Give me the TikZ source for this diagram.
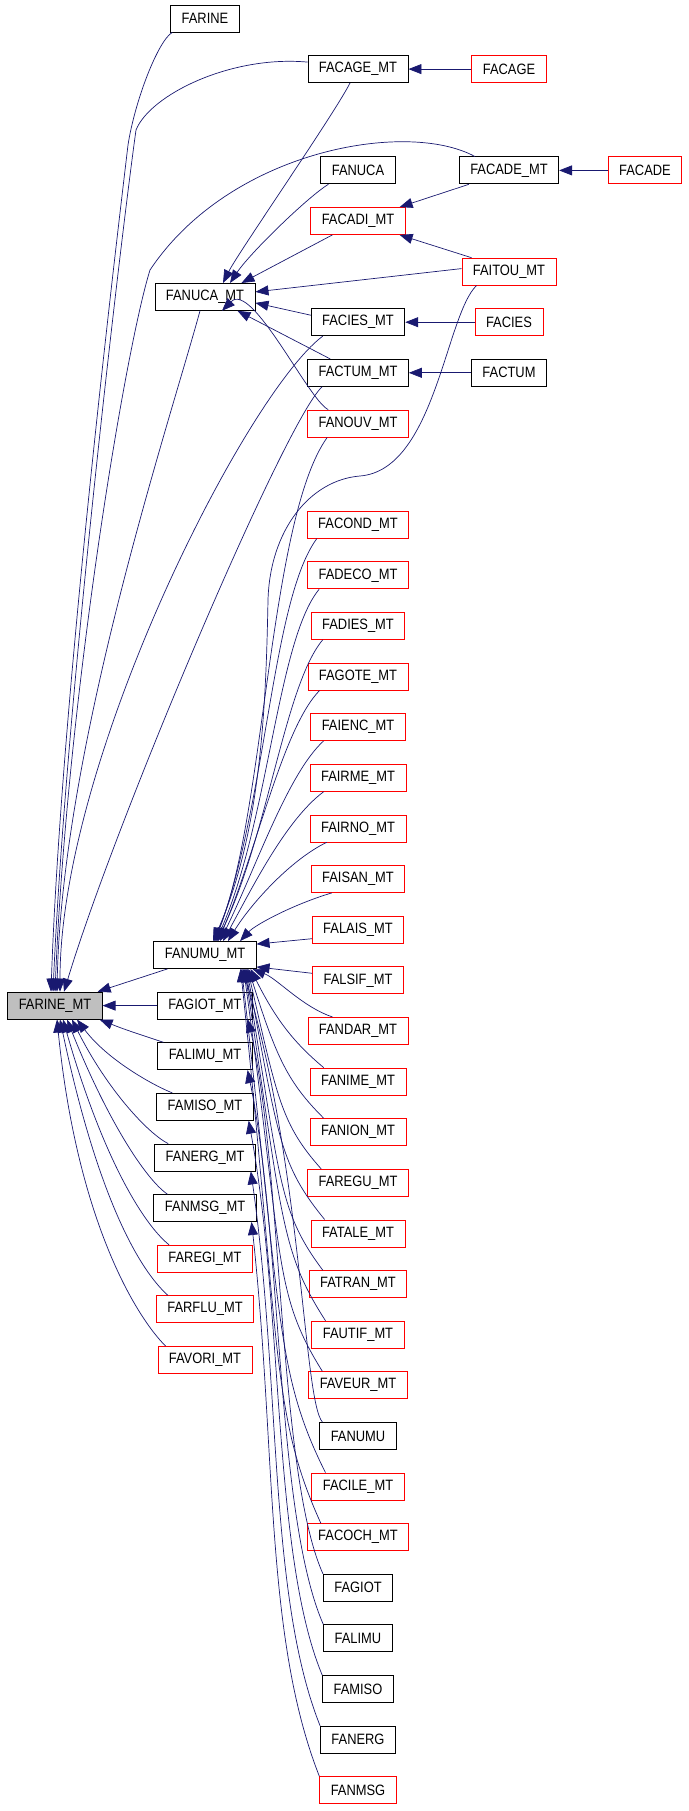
\documentclass[tikz,border=0pt]{standalone}
\usepackage{fontspec}
\usepackage{tikz}
\usetikzlibrary{arrows.meta}
\newfontfamily\doxfont[FakeStretch=0.86]{Liberation Sans}
\definecolor{edgeblue}{HTML}{191970}
\definecolor{curgray}{HTML}{BFBFBF}
\begin{document}
\begin{tikzpicture}[x=1pt,y=1pt]
\tikzstyle{fn}=[draw=black, line width=0.8pt, minimum height=27pt, inner xsep=11pt, inner ysep=0pt, font=\doxfont\fontsize{15}{17}\selectfont]
\tikzstyle{ext}=[fn, draw=red]
\tikzstyle{cur}=[fn, fill=curgray]
\tikzstyle{call}=[draw=edgeblue, line width=0.7pt, -{Triangle[length=13pt,width=10pt]}]
\useasboundingbox (0,0) rectangle (688,-1811);
\node[fn] (farine) at (205,-18.5) {FARINE};
\node[fn] (facagemt) at (358,-69.1) {FACAGE\_MT};
\node[ext] (facage) at (509,-69.1) {FACAGE};
\node[fn] (fanuca) at (358,-170.4) {FANUCA};
\node[fn] (facademt) at (509,-170.4) {FACADE\_MT};
\node[ext] (facade) at (645,-170.4) {FACADE};
\node[ext] (facadimt) at (358,-221) {FACADI\_MT};
\node[ext] (faitoumt) at (509,-271.6) {FAITOU\_MT};
\node[fn] (fanucamt) at (205,-296.9) {FANUCA\_MT};
\node[fn] (faciesmt) at (358,-322.2) {FACIES\_MT};
\node[ext] (facies) at (509,-322.2) {FACIES};
\node[fn] (factummt) at (358,-372.8) {FACTUM\_MT};
\node[fn] (factum) at (509,-372.8) {FACTUM};
\node[ext] (fanouvmt) at (358,-423.5) {FANOUV\_MT};
\node[ext] (facondmt) at (358,-524.7) {FACOND\_MT};
\node[ext] (fadecomt) at (358,-575.3) {FADECO\_MT};
\node[ext] (fadiesmt) at (358,-625.9) {FADIES\_MT};
\node[ext] (fagotemt) at (358,-676.6) {FAGOTE\_MT};
\node[ext] (faiencmt) at (358,-727.2) {FAIENC\_MT};
\node[ext] (fairmemt) at (358,-777.8) {FAIRME\_MT};
\node[ext] (fairnomt) at (358,-828.4) {FAIRNO\_MT};
\node[ext] (faisanmt) at (358,-879) {FAISAN\_MT};
\node[ext] (falaismt) at (358,-929.7) {FALAIS\_MT};
\node[ext] (falsifmt) at (358,-980.3) {FALSIF\_MT};
\node[ext] (fandarmt) at (358,-1030.9) {FANDAR\_MT};
\node[ext] (fanimemt) at (358,-1081.5) {FANIME\_MT};
\node[ext] (fanionmt) at (358,-1132.1) {FANION\_MT};
\node[ext] (faregumt) at (358,-1182.8) {FAREGU\_MT};
\node[ext] (fatalemt) at (358,-1233.4) {FATALE\_MT};
\node[ext] (fatranmt) at (358,-1284) {FATRAN\_MT};
\node[ext] (fautifmt) at (358,-1334.6) {FAUTIF\_MT};
\node[ext] (faveurmt) at (358,-1385.2) {FAVEUR\_MT};
\node[fn] (fanumu) at (358,-1435.9) {FANUMU};
\node[ext] (facilemt) at (358,-1486.5) {FACILE\_MT};
\node[ext] (facochmt) at (358,-1537.1) {FACOCH\_MT};
\node[fn] (fagiot) at (358,-1587.7) {FAGIOT};
\node[fn] (falimu) at (358,-1638.3) {FALIMU};
\node[fn] (famiso) at (358,-1689) {FAMISO};
\node[fn] (fanerg) at (358,-1739.6) {FANERG};
\node[ext] (fanmsg) at (358,-1790.2) {FANMSG};
\node[fn] (fanumumt) at (205,-955) {FANUMU\_MT};
\node[cur] (farinemt) at (55,-1005.6) {FARINE\_MT};
\node[fn] (fagiotmt) at (205,-1005.6) {FAGIOT\_MT};
\node[fn] (falimumt) at (205,-1056.2) {FALIMU\_MT};
\node[fn] (famisomt) at (205,-1106.8) {FAMISO\_MT};
\node[fn] (fanergmt) at (205,-1157.5) {FANERG\_MT};
\node[fn] (fanmsgmt) at (205,-1208.1) {FANMSG\_MT};
\node[ext] (faregimt) at (205,-1258.7) {FAREGI\_MT};
\node[ext] (farflumt) at (205,-1309.3) {FARFLU\_MT};
\node[ext] (favorimt) at (205,-1359.9) {FAVORI\_MT};
\draw[call] (facage.west) -- (facagemt.east);
\draw[call] (facade.west) -- (facademt.east);
\draw[call] (facies.west) -- (faciesmt.east);
\draw[call] (factum.west) -- (factummt.east);
\draw[call] ([xshift=2pt]farine.south west) .. controls +(-14,-8) and +(7,45) .. (128,-145) .. controls +(-10,-85) and +(10,292) .. ([xshift=-4pt]farinemt.north);
\draw[call] ([yshift=7pt]facagemt.west) .. controls +(-77,7) and +(14,35) .. (136,-130) .. controls +(-14,-100) and +(13,292) .. ([xshift=-2pt]farinemt.north);
\draw[call] ([xshift=16pt]facademt.north west) .. controls +(-68,37) and +(80,120) .. (150,-270) .. controls +(-25,-80) and +(12,292) .. (farinemt.north);
\draw[call] ([xshift=-5pt]fanucamt.south) .. controls +(-30,-110) and +(5,246) .. ([xshift=2pt]farinemt.north);
\draw[call] ([xshift=12pt]faciesmt.south west) .. controls +(-77,-58) and +(0,232) .. ([xshift=5pt]farinemt.north);
\draw[call] ([xshift=15pt]factummt.south west) .. controls +(-37,-34) and +(52,172) .. ([xshift=9pt]farinemt.north);
\draw[call] ([xshift=14pt]fanumumt.south west) -- ([xshift=-5pt]farinemt.north east);
\draw[call] (fagiotmt.west) -- (farinemt.east);
\draw[call] ([xshift=6pt]falimumt.north west) .. controls +(-30,10) and +(25,-10) .. ([xshift=-3pt]farinemt.south east);
\draw[call] ([xshift=16pt]famisomt.north west) .. controls +(-20,8) and +(30,-40) .. ([xshift=22pt]farinemt.south);
\draw[call] ([xshift=14pt]fanergmt.north west) .. controls +(-20,10) and +(35,-70) .. ([xshift=17pt]farinemt.south);
\draw[call] ([xshift=14pt]fanmsgmt.north west) .. controls +(-22,15) and +(40,-100) .. ([xshift=12pt]farinemt.south);
\draw[call] ([xshift=12pt]faregimt.north west) .. controls +(-25,20) and +(40,-140) .. ([xshift=8pt]farinemt.south);
\draw[call] ([xshift=12pt]farflumt.north west) .. controls +(-28,25) and +(38,-180) .. ([xshift=5pt]farinemt.south);
\draw[call] ([xshift=8pt]favorimt.north west) .. controls +(-30,30) and +(20,-200) .. ([xshift=2pt]farinemt.south);
\draw[call] ([xshift=-8pt]facagemt.south) .. controls +(-15,-30) and +(15,30) .. ([xshift=18pt]fanucamt.north);
\draw[call] ([xshift=8pt]fanuca.south west) .. controls +(-20,-12) and +(20,30) .. ([xshift=25pt]fanucamt.north);
\draw[call] ([xshift=22pt]facadimt.south west) -- ([xshift=-14pt]fanucamt.north east);
\draw[call] ([yshift=3pt]faitoumt.west) -- ([yshift=5pt]fanucamt.east);
\draw[call] ([yshift=7pt]faciesmt.west) -- ([yshift=-6pt]fanucamt.east);
\draw[call] ([xshift=23pt]factummt.north west) -- ([xshift=-18pt]fanucamt.south east);
\draw[call] ([xshift=21pt]fanouvmt.north west) .. controls +(-20,10) and +(30,30) .. ([xshift=17pt]fanucamt.south);
\draw[call] ([xshift=10pt]facademt.south west) -- ([xshift=-6pt]facadimt.north east);
\draw[call] ([xshift=10pt]faitoumt.north west) -- ([xshift=-6pt]facadimt.south east);
\draw[call] ([xshift=15pt]faitoumt.south west) .. controls +(-31,-30) and +(75,6) .. (360,-476) .. controls +(-50,-4) and +(2,70) .. (268,-600) .. controls +(-2,-100) and +(49,111) .. ([xshift=8pt]fanumumt.north);
\draw[call] ([xshift=20pt]fanouvmt.south west) .. controls +(-59,-83) and +(51,121) .. ([xshift=9pt]fanumumt.north);
\draw[call] ([xshift=10pt]facondmt.south west) .. controls +(-45,-61) and +(52,141) .. ([xshift=10pt]fanumumt.north);
\draw[call] ([xshift=12pt]fadecomt.south west) .. controls +(-42,-51) and +(53,121) .. ([xshift=11pt]fanumumt.north);
\draw[call] ([xshift=12pt]fadiesmt.south west) .. controls +(-38,-45) and +(51,106) .. ([xshift=12pt]fanumumt.north);
\draw[call] ([xshift=12pt]fagotemt.south west) .. controls +(-37,-38) and +(39,91) .. ([xshift=13pt]fanumumt.north);
\draw[call] ([xshift=13pt]faiencmt.south west) .. controls +(-36,-33) and +(35,71) .. ([xshift=15pt]fanumumt.north);
\draw[call] ([xshift=14pt]fairmemt.south west) .. controls +(-38,-28) and +(28,51) .. ([xshift=18pt]fanumumt.north);
\draw[call] ([xshift=17pt]fairnomt.south west) .. controls +(-37,-18) and +(22,36) .. ([xshift=23pt]fanumumt.north);
\draw[call] ([xshift=21pt]faisanmt.south west) .. controls +(-40,-12) and +(15,16) .. ([xshift=35pt]fanumumt.north);
\draw[call] ([yshift=-9pt]falaismt.west) -- ([yshift=-3pt]fanumumt.north east);
\draw[call] ([yshift=7pt]falsifmt.west) -- ([yshift=2pt]fanumumt.south east);
\draw[call] ([xshift=25pt]fandarmt.north west) .. controls +(-30,10) and +(25,-10) .. ([xshift=-4pt]fanumumt.south east);
\draw[call] ([xshift=14pt]fanimemt.north west) .. controls +(-30,25) and +(25,-50) .. ([xshift=-6pt]fanumumt.south east);
\draw[call] ([xshift=14pt]fanionmt.north west) .. controls +(-35,35) and +(28,-90) .. ([xshift=-8pt]fanumumt.south east);
\draw[call] ([xshift=14pt]faregumt.north west) .. controls +(-40,45) and +(30,-130) .. ([xshift=-9pt]fanumumt.south east);
\draw[call] ([xshift=14pt]fatalemt.north west) .. controls +(-45,55) and +(32,-170) .. ([xshift=-10pt]fanumumt.south east);
\draw[call] ([xshift=14pt]fatranmt.north west) .. controls +(-45,60) and +(35,-210) .. ([xshift=-11pt]fanumumt.south east);
\draw[call] ([xshift=14pt]fautifmt.north west) .. controls +(-45,70) and +(38,-250) .. ([xshift=-12pt]fanumumt.south east);
\draw[call] ([xshift=14pt]faveurmt.north west) .. controls +(-50,80) and +(40,-290) .. ([xshift=-13pt]fanumumt.south east);
\draw[call] ([xshift=3pt]fanumu.north west) .. controls +(-19,22) and +(60,-200) .. ([xshift=-14pt]fanumumt.south east);
\draw[call] ([xshift=14pt]facilemt.north west) .. controls +(-50,100) and +(40,-350) .. ([xshift=-15pt]fanumumt.south east);
\draw[call] ([xshift=14pt]facochmt.north west) .. controls +(-50,110) and +(40,-380) .. ([xshift=-16pt]fanumumt.south east);
\draw[call] (fagiot.north west) .. controls +(-45,100) and +(35,-150) .. ([xshift=-5pt]fagiotmt.south east);
\draw[call] (falimu.north west) .. controls +(-48,110) and +(35,-170) .. ([xshift=-5pt]falimumt.south east);
\draw[call] (famiso.north west) .. controls +(-50,120) and +(35,-190) .. ([xshift=-5pt]famisomt.south east);
\draw[call] (fanerg.north west) .. controls +(-52,130) and +(30,-210) .. ([xshift=-5pt]fanergmt.south east);
\draw[call] (fanmsg.north west) .. controls +(-55,140) and +(25,-230) .. ([xshift=-5pt]fanmsgmt.south east);
\end{tikzpicture}
\end{document}
